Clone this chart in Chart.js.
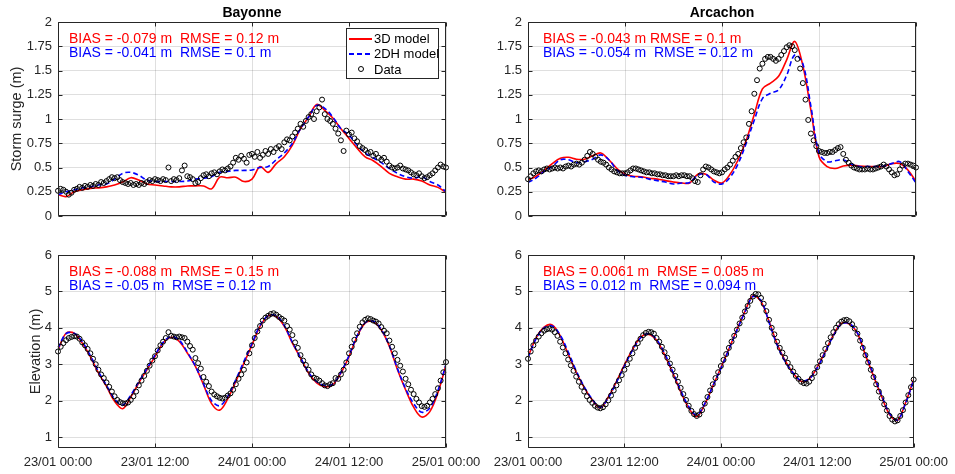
<!DOCTYPE html>
<html>
<head>
<meta charset="utf-8">
<script src="https://cdn.jsdelivr.net/npm/chart.js@4.4.1/dist/chart.umd.min.js"></script>
<style>
    body { margin: 0; background: #fff; }
    #fig { position: relative; width: 955px; height: 474px; overflow: hidden; font-family: 'Liberation Sans', Arial, sans-serif; }
    canvas { position: absolute; }
    .ttl { position: absolute; top: 4px; font-weight: bold; font-size: 14px; line-height: 16px; color: #000; transform: translateX(-50%); white-space: nowrap; }
    .stat { position: absolute; font-size: 14px; line-height: 16px; white-space: pre; }
    .red { color: #ff0000; }
    .blue { color: #0000ff; }
    .legend { position: absolute; left: 346px; top: 28px; width: 93px; height: 51px; box-sizing: border-box; border: 1px solid #262626; background: #fff; font-size: 13px; color: #000; }
    .lline { position: absolute; left: 2px; width: 23px; height: 2px; }
    .ltxt { position: absolute; left: 27px; line-height: 15px; white-space: nowrap; }
    .lmark { position: absolute; left: 11px; top: 37px; width: 6px; height: 6px; box-sizing: border-box; border: 1px solid #000; border-radius: 50%; }
</style>
</head>
<body>
<div id="fig">
    <canvas id="graficoSurgeBayonne" width="500" height="240" style="left:0px;top:0px"></canvas>
    <canvas id="graficoSurgeArcachon" width="485" height="240" style="left:470px;top:0px"></canvas>
    <canvas id="graficoElevBayonne" width="500" height="237" style="left:0px;top:237px"></canvas>
    <canvas id="graficoElevArcachon" width="485" height="237" style="left:470px;top:237px"></canvas>

    <div class="ttl" style="left:252px">Bayonne</div>
    <div class="ttl" style="left:722px">Arcachon</div>

    <div class="stat red" style="left:69px;top:30px">BIAS = -0.079 m  RMSE = 0.12 m</div>
    <div class="stat blue" style="left:69px;top:44px">BIAS = -0.041 m  RMSE = 0.1 m</div>
    <div class="stat red" style="left:543px;top:30px">BIAS = -0.043 m RMSE = 0.1 m</div>
    <div class="stat blue" style="left:543px;top:44px">BIAS = -0.054 m  RMSE = 0.12 m</div>
    <div class="stat red" style="left:69px;top:263px">BIAS = -0.088 m  RMSE = 0.15 m</div>
    <div class="stat blue" style="left:69px;top:277px">BIAS = -0.05 m  RMSE = 0.12 m</div>
    <div class="stat red" style="left:543px;top:263px">BIAS = 0.0061 m  RMSE = 0.085 m</div>
    <div class="stat blue" style="left:543px;top:277px">BIAS = 0.012 m  RMSE = 0.094 m</div>

    <div class="legend">
        <div class="lline" style="top:9px;background:#ff0000"></div>
        <div class="ltxt" style="top:2px">3D model</div>
        <div class="lline" style="top:24px;background:repeating-linear-gradient(to right,#0000ff 0 5px,transparent 5px 8px)"></div>
        <div class="ltxt" style="top:17px">2DH model</div>
        <div class="lmark"></div>
        <div class="ltxt" style="top:33px">Data</div>
    </div>
</div>

<script>
// ---- eixos e rótulos

const timeTickHours = [0, 12, 24, 36, 48];
const timeTickLabels = ['23/01 00:00', '23/01 12:00', '24/01 00:00', '24/01 12:00', '25/01 00:00'];
const surgeTicks = [0, 0.25, 0.5, 0.75, 1, 1.25, 1.5, 1.75, 2];
const elevTicks = [1, 2, 3, 4, 5, 6];

const modelStepH = 1;     // modelos: um valor por hora
const dataStepH = 1 / 3;  // medições: a cada 20 min

// ---- Bayonne, storm surge (m)

const bayonneSurge3D = [0.22, 0.20, 0.25, 0.27, 0.285, 0.29, 0.30, 0.32, 0.35, 0.395, 0.37, 0.33, 0.32, 0.31, 0.30, 0.30,
    0.31, 0.31, 0.31, 0.28, 0.40, 0.395, 0.40, 0.355, 0.38, 0.51, 0.45, 0.54, 0.61, 0.73, 0.90, 1.02,
    1.15, 1.09, 1.01, 0.90, 0.80, 0.70, 0.61, 0.57, 0.51, 0.44, 0.405, 0.38, 0.38, 0.36, 0.32, 0.295, 0.245];
const bayonneSurge2DH = [0.22, 0.25, 0.27, 0.29, 0.30, 0.32, 0.33, 0.38, 0.44, 0.45, 0.42, 0.37, 0.355, 0.355, 0.355, 0.355,
    0.36, 0.38, 0.39, 0.405, 0.45, 0.46, 0.47, 0.47, 0.475, 0.50, 0.51, 0.58, 0.65, 0.75, 0.90, 1.02,
    1.14, 1.11, 1.02, 0.90, 0.835, 0.73, 0.65, 0.60, 0.55, 0.49, 0.44, 0.405, 0.39, 0.405, 0.355, 0.32, 0.25];
const bayonneSurgeData = [
    0.26, 0.28, 0.27, 0.25, 0.22, 0.24, 0.27, 0.28, 0.30, 0.29, 0.31, 0.30,
    0.32, 0.31, 0.33, 0.32, 0.35, 0.34, 0.36, 0.38, 0.40, 0.39, 0.40, 0.37,
    0.35, 0.34, 0.33, 0.34, 0.32, 0.33, 0.32, 0.34, 0.33, 0.35, 0.37, 0.36,
    0.38, 0.37, 0.36, 0.38, 0.37, 0.50, 0.36, 0.38, 0.37, 0.39, 0.47, 0.52,
    0.41, 0.40, 0.38, 0.34, 0.35, 0.39, 0.42, 0.43, 0.41, 0.44, 0.45, 0.43,
    0.46, 0.48, 0.47, 0.49, 0.51, 0.55, 0.60, 0.58, 0.62, 0.59, 0.55, 0.63,
    0.64, 0.61, 0.66, 0.60, 0.63, 0.67, 0.64, 0.69, 0.66, 0.70, 0.72, 0.69,
    0.76, 0.79, 0.78, 0.82, 0.86, 0.90, 0.95, 0.92, 0.98, 1.02, 1.05, 1.00,
    1.08, 1.12, 1.20, 1.05, 1.00, 0.98, 0.95, 0.90, 0.85, 0.78, 0.67, 0.88,
    0.84, 0.86, 0.80, 0.77, 0.72, 0.70, 0.68, 0.65, 0.66, 0.62, 0.64, 0.60,
    0.58, 0.60, 0.56, 0.52, 0.50, 0.49, 0.50, 0.52, 0.49, 0.48, 0.47, 0.45,
    0.43, 0.42, 0.44, 0.41, 0.39, 0.40, 0.42, 0.44, 0.47, 0.50, 0.53, 0.51,
    0.50];

// ---- Arcachon, storm surge (m)

const arcachonSurge3D = [0.37, 0.41, 0.47, 0.54, 0.595, 0.605, 0.585, 0.585, 0.62, 0.65, 0.58, 0.49, 0.43, 0.41, 0.405, 0.39,
    0.38, 0.365, 0.35, 0.34, 0.34, 0.43, 0.43, 0.37, 0.34, 0.43, 0.58, 0.78, 1.05, 1.31, 1.37, 1.44,
    1.61, 1.80, 1.55, 1.09, 0.61, 0.51, 0.49, 0.515, 0.525, 0.515, 0.51, 0.51, 0.51, 0.54, 0.54, 0.475, 0.355];
const arcachonSurge2DH = [0.345, 0.39, 0.46, 0.51, 0.58, 0.58, 0.55, 0.56, 0.585, 0.63, 0.58, 0.475, 0.42, 0.405, 0.40, 0.38,
    0.365, 0.35, 0.33, 0.34, 0.345, 0.42, 0.43, 0.35, 0.33, 0.40, 0.54, 0.75, 0.99, 1.21, 1.265, 1.30,
    1.45, 1.66, 1.57, 1.13, 0.65, 0.56, 0.57, 0.58, 0.535, 0.51, 0.51, 0.51, 0.515, 0.54, 0.56, 0.46, 0.34];
const arcachonSurgeData = [
    0.38, 0.41, 0.44, 0.46, 0.47, 0.46, 0.48, 0.49, 0.48, 0.49, 0.50, 0.49,
    0.50, 0.49, 0.51, 0.52, 0.51, 0.53, 0.54, 0.53, 0.55, 0.58, 0.62, 0.66,
    0.64, 0.61, 0.58, 0.56, 0.55, 0.53, 0.50, 0.48, 0.46, 0.45, 0.44, 0.44,
    0.44, 0.45, 0.47, 0.49, 0.49, 0.48, 0.47, 0.46, 0.45, 0.45, 0.44, 0.44,
    0.43, 0.43, 0.42, 0.42, 0.41, 0.41, 0.41, 0.42, 0.41, 0.42, 0.42, 0.41,
    0.41, 0.39, 0.36, 0.35, 0.42, 0.48, 0.51, 0.50, 0.48, 0.46, 0.45, 0.44,
    0.45, 0.48, 0.50, 0.53, 0.57, 0.61, 0.64, 0.70, 0.76, 0.81, 0.95, 1.08,
    1.26, 1.40, 1.52, 1.57, 1.62, 1.64, 1.64, 1.62, 1.60, 1.62, 1.66, 1.70,
    1.74, 1.76, 1.75, 1.71, 1.62, 1.52, 1.37, 1.20, 0.99, 0.85, 0.78, 0.72,
    0.67, 0.66, 0.65, 0.65, 0.66, 0.66, 0.68, 0.70, 0.71, 0.64, 0.58, 0.55,
    0.52, 0.50, 0.49, 0.48, 0.48, 0.48, 0.49, 0.48, 0.48, 0.49, 0.50, 0.51,
    0.53, 0.51, 0.48, 0.45, 0.42, 0.43, 0.48, 0.52, 0.54, 0.54, 0.53, 0.52,
    0.50];

// ---- Bayonne, elevation (m)

const bayonneElev3D = [3.40, 3.85, 3.85, 3.58, 3.21, 2.76, 2.39, 1.98, 1.78, 2.10, 2.49, 2.85, 3.21, 3.58, 3.74, 3.63,
    3.31, 2.94, 2.44, 1.92, 1.74, 2.05, 2.53, 3.03, 3.53, 4.04, 4.33, 4.31, 4.04, 3.58, 3.17, 2.76,
    2.49, 2.38, 2.44, 2.76, 3.21, 3.76, 4.13, 4.17, 3.94, 3.49, 2.85, 2.30, 1.82, 1.55, 1.70, 2.22, 2.98];
const bayonneElev2DH = [3.44, 3.84, 3.85, 3.62, 3.24, 2.80, 2.42, 2.05, 1.88, 2.15, 2.52, 2.88, 3.25, 3.60, 3.76, 3.66,
    3.33, 2.95, 2.46, 2.00, 1.86, 2.12, 2.58, 3.08, 3.57, 4.07, 4.33, 4.33, 4.06, 3.60, 3.18, 2.78,
    2.52, 2.42, 2.46, 2.78, 3.24, 3.78, 4.14, 4.18, 3.95, 3.50, 2.88, 2.33, 1.92, 1.68, 1.80, 2.28, 3.00];
const bayonneElevData = [
    3.35, 3.48, 3.58, 3.66, 3.72, 3.75, 3.77, 3.76, 3.70, 3.60, 3.52, 3.42,
    3.30, 3.15, 3.00, 2.85, 2.72, 2.62, 2.50, 2.38, 2.25, 2.12, 2.02, 1.96,
    1.93, 1.92, 1.95, 2.02, 2.12, 2.25, 2.42, 2.55, 2.68, 2.82, 2.96, 3.10,
    3.22, 3.38, 3.52, 3.62, 3.72, 3.88, 3.78, 3.76, 3.74, 3.76, 3.74, 3.72,
    3.62, 3.50, 3.40, 3.17, 3.03, 2.88, 2.65, 2.52, 2.40, 2.25, 2.17, 2.12,
    2.08, 2.06, 2.08, 2.14, 2.20, 2.30, 2.45, 2.60, 2.72, 2.85, 3.05, 3.30,
    3.52, 3.72, 3.90, 4.05, 4.20, 4.28, 4.33, 4.38, 4.40, 4.36, 4.30, 4.25,
    4.20, 4.05, 3.95, 3.80, 3.60, 3.45, 3.25, 3.10, 2.98, 2.85, 2.72, 2.63,
    2.60, 2.55, 2.48, 2.42, 2.40, 2.45, 2.48, 2.62, 2.60, 2.72, 2.85, 3.05,
    3.30, 3.48, 3.67, 3.85, 4.03, 4.15, 4.22, 4.26, 4.24, 4.20, 4.17, 4.12,
    4.02, 3.92, 3.85, 3.65, 3.48, 3.30, 3.12, 2.96, 2.80, 2.60, 2.45, 2.30,
    2.18, 2.05, 1.95, 1.85, 1.83, 1.86, 1.95, 2.05, 2.18, 2.34, 2.55, 2.78,
    3.06];

// ---- Arcachon, elevation (m)

const arcachonElev3D = [3.20, 3.72, 4.02, 4.08, 3.78, 3.28, 2.78, 2.36, 2.02, 1.80, 2.10, 2.52, 2.98, 3.40, 3.74, 3.82,
    3.66, 3.26, 2.77, 2.25, 1.80, 1.56, 1.90, 2.40, 2.90, 3.42, 3.95, 4.45, 4.88, 4.72, 4.18, 3.56,
    3.10, 2.76, 2.53, 2.60, 2.92, 3.35, 3.80, 4.12, 4.10, 3.85, 3.25, 2.68, 2.12, 1.62, 1.46, 1.95, 2.58];
const arcachonElev2DH = [3.18, 3.70, 4.00, 4.05, 3.80, 3.34, 2.82, 2.38, 2.04, 1.82, 2.08, 2.50, 2.95, 3.38, 3.72, 3.84,
    3.68, 3.30, 2.80, 2.28, 1.84, 1.60, 1.92, 2.40, 2.88, 3.40, 3.93, 4.43, 4.86, 4.75, 4.15, 3.53,
    3.08, 2.76, 2.55, 2.60, 2.90, 3.33, 3.78, 4.10, 4.12, 3.86, 3.30, 2.72, 2.16, 1.65, 1.47, 1.93, 2.56];
const arcachonElevData = [
    3.15, 3.35, 3.52, 3.65, 3.76, 3.85, 3.92, 3.96, 3.98, 3.95, 3.88, 3.78,
    3.62, 3.46, 3.30, 3.13, 2.97, 2.82, 2.66, 2.52, 2.38, 2.25, 2.12, 2.02,
    1.94, 1.86, 1.81, 1.79, 1.82, 1.90, 2.01, 2.14, 2.28, 2.42, 2.56, 2.70,
    2.85, 3.00, 3.15, 3.30, 3.45, 3.58, 3.70, 3.80, 3.86, 3.89, 3.88, 3.84,
    3.72, 3.62, 3.48, 3.33, 3.18, 3.02, 2.85, 2.68, 2.52, 2.35, 2.18, 2.02,
    1.86, 1.72, 1.63, 1.58, 1.62, 1.74, 1.92, 2.10, 2.28, 2.45, 2.62, 2.78,
    2.95, 3.12, 3.28, 3.45, 3.62, 3.78, 3.95, 4.12, 4.28, 4.45, 4.60, 4.74,
    4.86, 4.93, 4.92, 4.82, 4.66, 4.46, 4.22, 4.00, 3.82, 3.62, 3.45, 3.32,
    3.18, 3.04, 2.92, 2.80, 2.68, 2.60, 2.52, 2.48, 2.47, 2.52, 2.62, 2.76,
    2.92, 3.08, 3.25, 3.42, 3.58, 3.74, 3.88, 4.00, 4.10, 4.17, 4.21, 4.22,
    4.18, 4.10, 3.98, 3.84, 3.65, 3.45, 3.25, 3.05, 2.85, 2.65, 2.45, 2.25,
    2.07, 1.90, 1.73, 1.58, 1.48, 1.43, 1.46, 1.58, 1.74, 1.95, 2.15, 2.37,
    2.58];

// ---- desenho

const fontFamily = "'Liberation Sans', Arial, sans-serif";
const axisColor = '#262626';
const gridColor = 'rgba(38, 38, 38, 0.15)';

// caixa do eixo com marcas internas (estilo MATLAB)
const moldura = {
    id: 'moldura',
    afterDatasetsDraw(chart) {
        const { ctx, chartArea: a, scales: { x, y } } = chart;
        const l = Math.round(a.left) + 0.5, r = Math.round(a.right) - 0.5;
        const t = Math.round(a.top) + 0.5, b = Math.round(a.bottom) - 0.5;
        ctx.save();
        ctx.strokeStyle = axisColor;
        ctx.lineWidth = 1;
        ctx.beginPath();
        ctx.rect(l, t, r - l, b - t);
        x.ticks.forEach(tk => {
            const px = Math.round(x.getPixelForValue(tk.value)) + 0.5;
            ctx.moveTo(px, b); ctx.lineTo(px, b - 4);
            ctx.moveTo(px, t); ctx.lineTo(px, t + 4);
        });
        y.ticks.forEach(tk => {
            const py = Math.round(y.getPixelForValue(tk.value)) + 0.5;
            ctx.moveTo(l, py); ctx.lineTo(l + 4, py);
            ctx.moveTo(r, py); ctx.lineTo(r - 4, py);
        });
        ctx.stroke();
        ctx.restore();
    }
};

function pontos(values, step) {
    return values.map((v, i) => ({ x: i * step, y: v }));
}

function criarGrafico(canvasId, cfg) {
    const ctx = document.getElementById(canvasId).getContext('2d');
    return new Chart(ctx, {
        type: 'line',
        data: {
            datasets: [{
                label: '3D model',
                data: pontos(cfg.model3D, modelStepH),
                borderColor: '#ff0000',
                borderWidth: 1.6,
                pointRadius: 0,
                tension: 0.35,
                order: 3
            }, {
                label: '2DH model',
                data: pontos(cfg.model2DH, modelStepH),
                borderColor: '#0000ff',
                borderWidth: 1.6,
                borderDash: [5, 3],
                pointRadius: 0,
                tension: 0.35,
                order: 2
            }, {
                label: 'Data',
                data: pontos(cfg.obs, dataStepH),
                showLine: false,
                pointStyle: 'circle',
                pointRadius: 2.5,
                pointBorderWidth: 1,
                pointBorderColor: '#000000',
                pointBackgroundColor: 'rgba(0, 0, 0, 0)',
                clip: false,
                order: 1
            }]
        },
        options: {
            responsive: false,
            animation: false,
            devicePixelRatio: 1,
            events: [],
            layout: { padding: cfg.padding },
            plugins: { legend: { display: false }, tooltip: { enabled: false } },
            scales: {
                x: {
                    type: 'linear',
                    min: 0,
                    max: 48,
                    afterBuildTicks: s => { s.ticks = timeTickHours.map(v => ({ value: v })); },
                    afterFit: s => { s.height = cfg.xHeight; },
                    grid: { color: gridColor, drawTicks: false },
                    border: { display: false },
                    ticks: {
                        display: cfg.showTime,
                        maxRotation: 0,
                        autoSkip: false,
                        padding: 7,
                        color: axisColor,
                        font: { family: fontFamily, size: 13 },
                        callback: (v, i) => timeTickLabels[i]
                    }
                },
                y: {
                    min: cfg.yMin,
                    max: cfg.yMax,
                    afterBuildTicks: s => { s.ticks = cfg.yTicks.map(v => ({ value: v })); },
                    afterFit: s => { s.width = cfg.yWidth; },
                    grid: { color: gridColor, drawTicks: false },
                    border: { display: false },
                    ticks: {
                        padding: 6,
                        color: axisColor,
                        font: { family: fontFamily, size: 13 },
                        callback: v => String(v)
                    },
                    title: {
                        display: !!cfg.yTitle,
                        text: cfg.yTitle || '',
                        color: axisColor,
                        padding: 0,
                        font: { family: fontFamily, size: 14.5 }
                    }
                }
            }
        },
        plugins: [moldura]
    });
}

criarGrafico('graficoSurgeBayonne', {
    model3D: bayonneSurge3D, model2DH: bayonneSurge2DH, obs: bayonneSurgeData,
    yMin: 0, yMax: 2, yTicks: surgeTicks, yTitle: 'Storm surge (m)',
    padding: { left: 8, top: 22, right: 54, bottom: 24 }, yWidth: 50, xHeight: 0, showTime: false
});

criarGrafico('graficoSurgeArcachon', {
    model3D: arcachonSurge3D, model2DH: arcachonSurge2DH, obs: arcachonSurgeData,
    yMin: 0, yMax: 2, yTicks: surgeTicks,
    padding: { left: 0, top: 22, right: 39, bottom: 24 }, yWidth: 58, xHeight: 0, showTime: false
});

criarGrafico('graficoElevBayonne', {
    model3D: bayonneElev3D, model2DH: bayonneElev2DH, obs: bayonneElevData,
    yMin: 0.7, yMax: 6, yTicks: elevTicks, yTitle: 'Elevation (m)',
    padding: { left: 27, top: 18, right: 54, bottom: 0 }, yWidth: 31, xHeight: 26, showTime: true
});

criarGrafico('graficoElevArcachon', {
    model3D: arcachonElev3D, model2DH: arcachonElev2DH, obs: arcachonElevData,
    yMin: 0.7, yMax: 6, yTicks: elevTicks,
    padding: { left: 0, top: 18, right: 39, bottom: 0 }, yWidth: 58, xHeight: 26, showTime: true
});
</script>
</body>
</html>
